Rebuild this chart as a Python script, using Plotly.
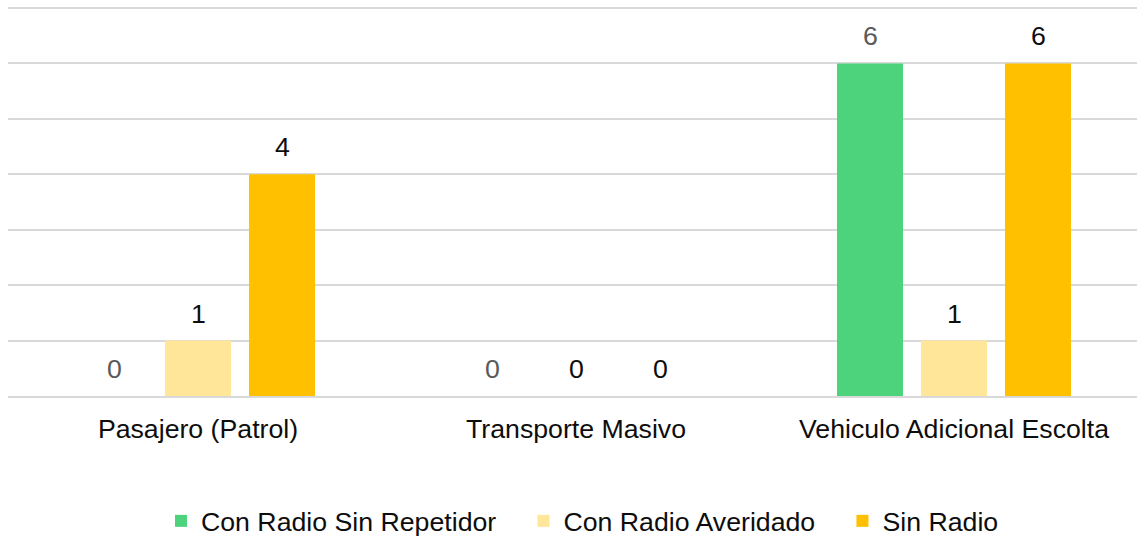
import plotly.graph_objects as go

categories = ["Pasajero (Patrol)", "Transporte Masivo", "Vehiculo Adicional Escolta"]
series_names = ["Con Radio Sin Repetidor", "Con Radio Averidado", "Sin Radio"]
con_radio_sin_repetidor = [0, 0, 6]
con_radio_averidado = [1, 0, 1]
sin_radio = [4, 0, 6]

series_values = [con_radio_sin_repetidor, con_radio_averidado, sin_radio]
bar_colors = ["#4cd37b", "#ffe699", "#ffc000"]
label_colors = ["#595959", "#0d0d0d", "#0d0d0d"]

FONT = "Liberation Sans, Arial, sans-serif"
FS = 26.7
BARGAP = 1 / 3
n_series = len(series_names)
slot = (1 - BARGAP) / n_series
PX_PER_UNIT = 388 / 7  # vertical scale of the value axis
NBSP = "\u00a0"

fig = go.Figure()
for k, (name, vals, color) in enumerate(zip(series_names, series_values, bar_colors)):
    legend_name = name + (NBSP * 3 if k < n_series - 1 else "")
    fig.add_trace(go.Bar(
        name=legend_name, x=categories, y=vals,
        marker=dict(color=color, line=dict(width=0)),
        hovertemplate=name + ": %{y}<extra>%{x}</extra>",
    ))
    # value labels above each bar
    for i, v in enumerate(vals):
        fig.add_annotation(
            x=i + (k - (n_series - 1) / 2) * slot, y=v, xref="x", yref="y",
            text=str(v), showarrow=False, yanchor="bottom", yshift=10,
            font=dict(family=FONT, size=FS, color=label_colors[k]),
        )

top_margin = 4
plot_h = 537 - top_margin - 141
fig.update_layout(
    width=1137, height=537,
    margin=dict(l=8, r=0, t=top_margin, b=141),
    paper_bgcolor="white", plot_bgcolor="white",
    barmode="group", bargap=BARGAP, bargroupgap=0.214,
    font=dict(family=FONT, size=FS, color="#0d0d0d"),
    showlegend=True,
    legend=dict(
        orientation="h", x=0.5 + 14 / 1137, xanchor="center", xref="container",
        y=(537 - 521) / 537, yanchor="middle", yref="container",
        font=dict(family=FONT, size=FS, color="#0d0d0d"),
        itemwidth=30, traceorder="normal",
    ),
    xaxis=dict(
        type="category", range=[-190 / 378, -190 / 378 + 1129 / 378],
        showgrid=False, showline=True, linecolor="#d9d9d9", linewidth=2,
        ticks="", tickfont=dict(family=FONT, size=FS, color="#0d0d0d"),
        ticklabelstandoff=8,
    ),
    yaxis=dict(
        range=[0, plot_h / PX_PER_UNIT], dtick=1, showgrid=True,
        gridcolor="#d9d9d9", gridwidth=2,
        showticklabels=False, zeroline=False, showline=False,
    ),
)

fig.write_html("out.html")
